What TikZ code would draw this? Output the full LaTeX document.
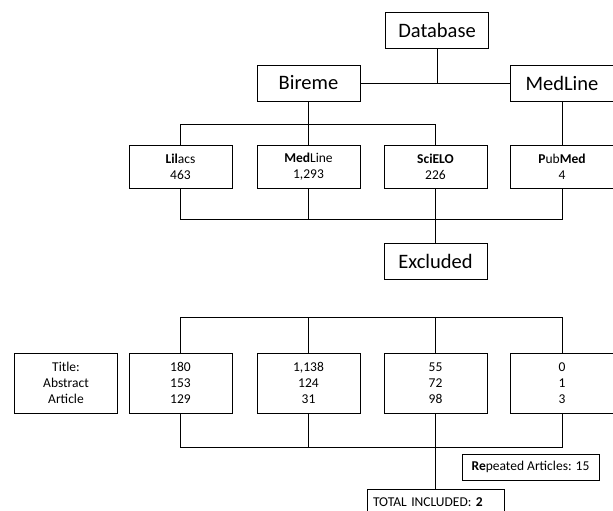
\documentclass[tikz,border=0pt]{standalone}
\usepackage{fontspec}
\setmainfont{Carlito}
\usepackage{tikz}
\usetikzlibrary{calc}

\tikzset{
    bigbox/.style={draw, line width=0.9pt, inner sep=0pt, minimum width=103pt, minimum height=36pt,
        font=\fontsize{20.5}{24}\selectfont},
    dbbox/.style={draw, line width=0.9pt, inner sep=0pt, minimum width=103pt, minimum height=43pt,
        align=center, font=\fontsize{13.5}{16}\selectfont},
    countbox/.style={draw, line width=0.9pt, inner sep=0pt, minimum width=103pt, minimum height=60pt,
        align=center, font=\fontsize{13.5}{16}\selectfont},
    notebox/.style={draw, line width=0.9pt, inner sep=0pt, minimum height=26pt,
        font=\fontsize{13.5}{16}\selectfont},
    link/.style={line width=0.9pt}
}

\begin{document}
\begin{tikzpicture}[x=1pt, y=-1pt]
    \useasboundingbox (0,0) rectangle (613,511);

    % sources
    \node[bigbox] (database) at (437, 30) {Database};
    \node[bigbox] (bireme) at (308.5, 83) {Bireme};
    \node[bigbox] (medline) at (562, 83) {MedLine};

    \node[dbbox] (lilacs) at (180.5, 166.5) {\textbf{Lil}acs\\463};
    \node[dbbox] (medlineb) at (308.5, 166.5) {\textbf{Med}Line\\1,293};
    \node[dbbox] (scielo) at (435.5, 166.5) {\textbf{SciELO}\\226};
    \node[dbbox] (pubmed) at (562, 166.5) {\textbf{P}ub\textbf{Med}\\4};

    \node[bigbox] (excluded) at (435.5, 261.5) {Excluded};

    % screening
    \node[countbox] (criteria) at (66, 383) {Title:\\Abstract\\Article};
    \node[countbox] (lilacsn) at (180.5, 383) {180\\153\\129};
    \node[countbox] (medlinen) at (308.5, 383) {1,138\\124\\31};
    \node[countbox, line width=1pt] (scielon) at (435.5, 383) {55\\72\\98};
    \node[countbox] (pubmedn) at (562, 383) {0\\1\\3};

    \node[notebox, minimum width=137pt] (repeated) at (530.5, 467) {\textbf{Re}peated Articles: 15};
    \node[notebox, minimum width=137pt, text width=125pt, align=left] (total) at (435.5, 502)
        {TOTAL INCLUDED: \textbf{2}};

    \coordinate (split) at (0, 124);
    \coordinate (join) at (0, 219);
    \coordinate (split2) at (0, 317);
    \coordinate (join2) at (0, 447);

    \draw[link] (bireme) -- (medline);
    \draw[link] (database.south) -- (database.south |- bireme);
    \draw[link] (bireme.south) -- (medlineb.north);
    \draw[link] (lilacs.north) |- (scielo.north |- split) -- (scielo.north);
    \draw[link] (medline.south) -- (pubmed.north);

    \draw[link] (lilacs.south) |- (pubmed.south |- join) -- (pubmed.south);
    \draw[link] (medlineb.south) -- (medlineb.south |- join);
    \draw[link] (scielo.south) -- (excluded.north);

    \draw[link] (lilacsn.north) |- (pubmedn.north |- split2) -- (pubmedn.north);
    \draw[link] (medlinen.north) -- (medlinen.north |- split2);
    \draw[link] (scielon.north) -- (scielon.north |- split2);

    \draw[link] (lilacsn.south) |- (pubmedn.south |- join2) -- (pubmedn.south);
    \draw[link] (medlinen.south) -- (medlinen.south |- join2);
    \draw[link] (scielon.south) -- (scielon.south |- join2);
    \draw[line width=1.6pt] (scielon.south |- join2) -- (total.north);
\end{tikzpicture}
\end{document}
